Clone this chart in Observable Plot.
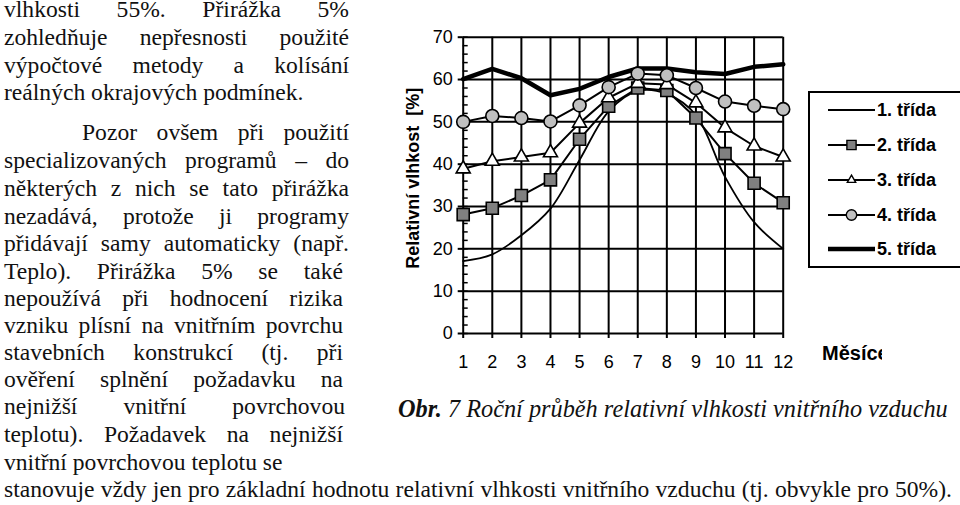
<!DOCTYPE html>
<html><head><meta charset="utf-8">
<script src="https://cdn.jsdelivr.net/npm/d3@7"></script>
<script src="https://cdn.jsdelivr.net/npm/@observablehq/plot@0.6"></script>
<style>
html,body{margin:0;padding:0;width:960px;height:505px;overflow:hidden;background:#fff;}
.ln{position:absolute;white-space:nowrap;font-family:"Liberation Serif",serif;font-size:23.6px;line-height:18px;color:#111;}
#chart{position:absolute;left:390px;top:20px;}
#legend{position:absolute;left:808px;top:91px;width:170px;height:177px;border:2px solid #000;box-sizing:border-box;}
#xlab{position:absolute;left:822px;top:341px;width:60px;overflow:hidden;white-space:nowrap;font-family:"Liberation Sans",sans-serif;font-weight:bold;font-size:20px;line-height:24px;color:#000;}
</style></head>
<body>
<div id="chart"></div>
<div id="legend"></div>
<div id="xlab">Měsíce</div>
<script>
// ---- data ----
const months = [1,2,3,4,5,6,7,8,9,10,11,12];
const trida1 = [17.1, 18.7, 23.2, 29.5, 41.0, 52.5, 57.3, 56.6, 51.6, 37.0, 26.3, 20.0];
const trida2 = [28.1, 29.6, 32.6, 36.3, 45.9, 53.7, 58.0, 57.4, 50.9, 42.5, 35.5, 30.9];
const trida3 = [38.9, 40.7, 41.7, 42.7, 49.7, 55.7, 59.1, 58.8, 54.5, 48.6, 44.3, 41.7];
const trida4 = [50.0, 51.4, 50.9, 50.1, 53.9, 58.2, 61.4, 61.0, 58.0, 54.8, 53.8, 53.0];
const trida5 = [60.1, 62.5, 60.3, 56.3, 57.8, 60.6, 62.6, 62.6, 61.7, 61.3, 63.0, 63.6];
const seriesNames = ["1. třída","2. třída","3. třída","4. třída","5. třída"];
const yTicks = [0,10,20,30,40,50,60,70];
const yMinor = d3.range(0, 71, 2);
const yLabel = "Relativní vlhkost  [%]";
const xLabel = "Měsíce";
const caption = ["Obr.", " 7  Roční průběh relativní vlhkosti vnitřního vzduchu"];
const bodyLines = [
 "vlhkosti 55%. Přirážka 5%",
 "zohledňuje nepřesnosti použité",
 "výpočtové metody a kolísání",
 "reálných okrajových podmínek.",
 "Pozor ovšem při použití",
 "specializovaných programů – do",
 "některých z nich se tato přirážka",
 "nezadává, protože ji programy",
 "přidávají samy automaticky (např.",
 "Teplo). Přirážka 5% se také",
 "nepoužívá při hodnocení rizika",
 "vzniku plísní na vnitřním povrchu",
 "stavebních konstrukcí (tj. při",
 "ověření splnění požadavku na",
 "nejnižší vnitřní povrchovou",
 "teplotu). Požadavek na nejnižší",
 "vnitřní povrchovou teplotu se",
 "stanovuje vždy jen pro základní hodnotu relativní vlhkosti vnitřního vzduchu (tj. obvykle pro 50%)."
];

// ---- layout of text lines (baseline, left, right, justified) ----
const lineLayout = [
 [17,4,349,1],[45,4,349,1],[72.5,4,349,1],[99.5,4,0,0],
 [140,82,349,1],[168,4,349,1],[196,4,349,1],[224,4,349,1],[251,4,349,1],
 [279,4,343,1],[306,4,343,1],[333,4,343,1],[360,4,343,1],[387,4,343,1],[414,4,345,1],[442,4,343,1],
 [470,4,0,0],[497,4,952,1]
];
function placeLine(text, base, left, right, just, style) {
  const div = document.createElement("div");
  div.className = "ln";
  if (style) Object.assign(div.style, style);
  div.style.left = left + "px";
  div.style.top = "0px";
  const span = document.createElement("span");
  if (Array.isArray(text)) {
    const b = document.createElement("b"); b.textContent = text[0];
    span.append(b, document.createTextNode(text[1]));
  } else span.textContent = text;
  const mark = document.createElement("span");
  mark.style.cssText = "display:inline-block;width:0;height:0;";
  div.append(span, mark);
  document.body.append(div);
  if (just) {
    const w = span.getBoundingClientRect().width;
    const n = (span.textContent.match(/ /g) || []).length;
    if (n > 0) span.style.wordSpacing = ((right - left - w) / n) + "px";
  }
  div.style.top = (base - mark.offsetTop) + "px";
}
bodyLines.forEach((t, i) => {
  const [b, l, r, j] = lineLayout[i];
  placeLine(t, b, l, r, j);
});
placeLine(caption, 416.7, 398, 0, 0, {fontStyle: "italic", fontSize: "24.3px"});

// ---- chart ----
const rows = [];
[trida1, trida2, trida3, trida4, trida5].forEach((arr, s) =>
  arr.forEach((v, i) => rows.push({series: seriesNames[s], month: months[i], value: v})));
const bySeries = name => rows.filter(d => d.series === name);

const chart = Plot.plot({
  width: 570, height: 360,
  marginLeft: 72.7, marginRight: 177.3, marginTop: 16.7, marginBottom: 47,
  x: {domain: [1, 12]},
  y: {domain: [0, 70]},
  style: {fontFamily: "Liberation Sans, sans-serif", fontSize: "18px", color: "#000", background: "transparent", overflow: "visible"},
  marks: [
    Plot.ruleX(months, {x: d => d, y1: 0, y2: 70, stroke: "#000", strokeWidth: 2}),
    Plot.ruleY(yTicks, {y: d => d, x1: 1, x2: 12, stroke: "#000", strokeWidth: 2}),
    Plot.axisY({ticks: yTicks, tickSize: 5, tickPadding: 5.5, tickFormat: d => String(d), label: null, strokeWidth: 2, fontSize: 18}),
    Plot.axisY({ticks: yMinor, tickSize: 5, dx: 5, tickFormat: () => "", label: null, strokeWidth: 1.5}),
    Plot.axisX({ticks: months, tickSize: 5, tickPadding: 17, tickFormat: d => String(d), label: null, strokeWidth: 2, fontSize: 18}),
    Plot.text([yLabel], {frameAnchor: "left", textAnchor: "middle", rotate: -90, dx: -50, dy: -7, fontWeight: "bold", fontSize: 18, fill: "#000"}),
    Plot.line(bySeries(seriesNames[0]), {x: "month", y: "value", stroke: "#000", strokeWidth: 1.8, curve: "catmull-rom"}),
    Plot.line(bySeries(seriesNames[1]), {x: "month", y: "value", stroke: "#000", strokeWidth: 2}),
    Plot.line(bySeries(seriesNames[2]), {x: "month", y: "value", stroke: "#000", strokeWidth: 2}),
    Plot.line(bySeries(seriesNames[3]), {x: "month", y: "value", stroke: "#000", strokeWidth: 2}),
    Plot.line(bySeries(seriesNames[4]), {x: "month", y: "value", stroke: "#000", strokeWidth: 4.5, strokeLinejoin: "round"}),
    Plot.dot(bySeries(seriesNames[1]), {x: "month", y: "value", symbol: "square", r: 6.8, fill: "#808080", stroke: "#000", strokeWidth: 1.6}),
    Plot.dot(bySeries(seriesNames[2]), {x: "month", y: "value", symbol: "triangle", r: 5.2, fill: "#fff", stroke: "#000", strokeWidth: 1.6}),
    Plot.dot(bySeries(seriesNames[3]), {x: "month", y: "value", symbol: "circle", r: 6.5, fill: "#c0c0c0", stroke: "#000", strokeWidth: 1.6})
  ]
});
document.getElementById("chart").append(chart);

// ---- legend ----
const leg = d3.select("#legend");
const lsvg = leg.append("svg").attr("width", 70).attr("height", 175).style("position", "absolute").style("left", "0px").style("top", "0px");
const legY = [17, 52, 87, 122, 156];
const legStyles = [
  {w: 1.8, sym: null}, {w: 2, sym: d3.symbolSquare, fill: "#808080", size: Math.PI * 5.2 * 5.2},
  {w: 2, sym: d3.symbolTriangle2, fill: "#fff", size: Math.PI * 4 * 4},
  {w: 2, sym: d3.symbolCircle, fill: "#c0c0c0", size: Math.PI * 5.2 * 5.2}, {w: 4.5, sym: null}
];
seriesNames.forEach((name, i) => {
  const st = legStyles[i], y = legY[i];
  lsvg.append("line").attr("x1", 18).attr("x2", 65).attr("y1", y).attr("y2", y).attr("stroke", "#000").attr("stroke-width", st.w);
  if (st.sym) lsvg.append("path").attr("d", d3.symbol(st.sym, st.size)()).attr("transform", `translate(41.5,${y})`)
      .attr("fill", st.fill).attr("stroke", "#000").attr("stroke-width", 1.4);
  leg.append("div").text(name).style("position", "absolute").style("left", "67px").style("top", (y - 12) + "px")
    .style("font", "bold 18px 'Liberation Sans', sans-serif").style("line-height", "24px").style("white-space", "nowrap").style("color", "#000");
});
</script>
</body></html>
